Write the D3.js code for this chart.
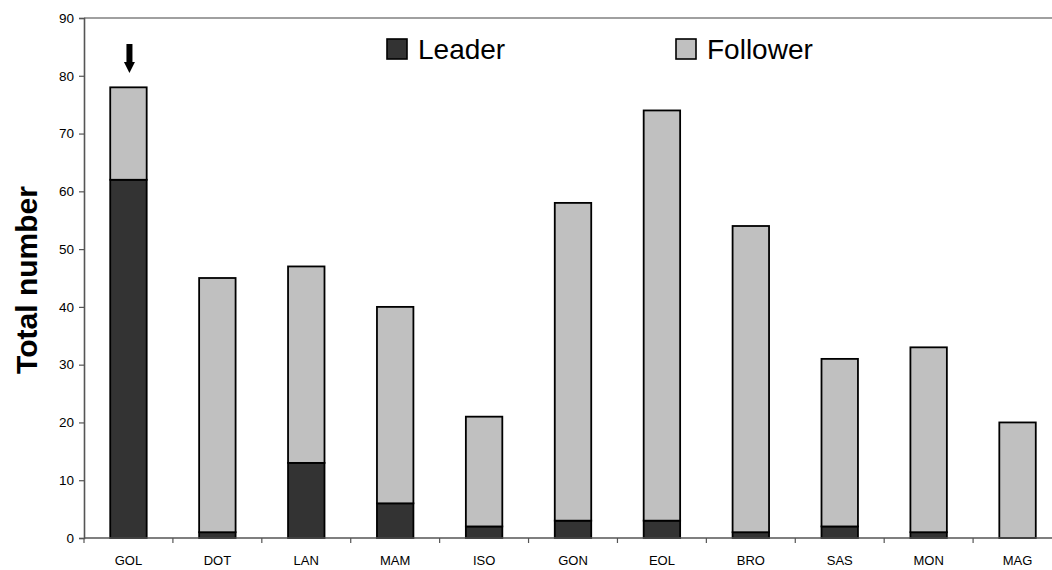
<!DOCTYPE html>
<html>
<head>
<meta charset="utf-8">
<script src="https://cdn.jsdelivr.net/npm/d3@7"></script>
<style>
  html, body { margin: 0; padding: 0; background: #fff; }
  svg { display: block; }
  text { font-family: Arial, "Liberation Sans", sans-serif; }
</style>
</head>
<body>
<svg id="chart" width="1052" height="570"></svg>
<script>
const categories = ["GOL", "DOT", "LAN", "MAM", "ISO", "GON", "EOL", "BRO", "SAS", "MON", "MAG"];
const leader =   [62, 1, 13, 6, 2, 3, 3, 1, 2, 1, 0];
const follower = [16, 44, 34, 34, 19, 55, 71, 53, 29, 32, 20];
const yTicks = [0, 10, 20, 30, 40, 50, 60, 70, 80, 90];
const seriesNames = ["Leader", "Follower"];
const seriesColors = ["#333333", "#c0c0c0"];

const svg = d3.select("#chart");
const plotLeft = 84, plotRight = 1062, plotTop = 18, plotBottom = 538;

const x = d3.scaleBand().domain(categories).range([plotLeft, plotRight]).paddingInner(0).paddingOuter(0);
const y = d3.scaleLinear().domain([0, 90]).range([plotBottom, plotTop]);
const barW = x.bandwidth() * 0.41;

// top border line
svg.append("line")
  .attr("x1", plotLeft).attr("x2", 1052).attr("y1", y(90)).attr("y2", y(90))
  .attr("stroke", "#808080").attr("stroke-width", 1.5);

// stacked data
const rows = categories.map((c, i) => ({ cat: c, Leader: leader[i], Follower: follower[i] }));
const stack = d3.stack().keys(seriesNames)(rows);

const g = svg.append("g");
stack.forEach((layer, li) => {
  g.selectAll(null).data(layer.filter(d => d[1] - d[0] > 0)).enter()
    .append("rect")
    .attr("x", d => x(d.data.cat) + (x.bandwidth() - barW) / 2)
    .attr("width", barW)
    .attr("y", d => y(d[1]))
    .attr("height", d => y(d[0]) - y(d[1]))
    .attr("fill", seriesColors[li])
    .attr("stroke", "#000")
    .attr("stroke-width", 1.8);
});

// y axis
const yAxis = d3.axisLeft(y).tickValues(yTicks).tickSize(5).tickPadding(5);
const ya = svg.append("g").attr("transform", `translate(${plotLeft},0)`).call(yAxis);
ya.select(".domain").attr("stroke", "#555").attr("stroke-width", 1.6);
ya.selectAll(".tick line").attr("stroke", "#555").attr("stroke-width", 1.2);
ya.selectAll(".tick text").attr("font-size", 13.5).attr("fill", "#000")
  .attr("font-family", "Arial, 'Liberation Sans', sans-serif");

// x axis line
svg.append("line")
  .attr("x1", plotLeft).attr("x2", plotRight).attr("y1", plotBottom).attr("y2", plotBottom)
  .attr("stroke", "#555").attr("stroke-width", 1.6);
// boundary ticks
const bounds = categories.map(c => x(c)).concat([plotRight]);
svg.selectAll(null).data(bounds).enter().append("line")
  .attr("x1", d => d).attr("x2", d => d)
  .attr("y1", plotBottom).attr("y2", plotBottom + 5)
  .attr("stroke", "#555").attr("stroke-width", 1.2);
// x labels
svg.selectAll(null).data(categories).enter().append("text")
  .attr("x", d => x(d) + x.bandwidth() / 2)
  .attr("y", 564.5)
  .attr("text-anchor", "middle")
  .attr("font-size", 13)
  .text(d => d);

// y title
svg.append("text")
  .attr("transform", `translate(37, 280) rotate(-90)`)
  .attr("text-anchor", "middle")
  .attr("font-size", 30)
  .attr("font-weight", "bold")
  .text("Total number");

// legend
const legendX = [387, 676];
seriesNames.forEach((n, i) => {
  svg.append("rect")
    .attr("x", legendX[i]).attr("y", 39).attr("width", 20).attr("height", 20)
    .attr("fill", seriesColors[i]).attr("stroke", "#000").attr("stroke-width", 1.6);
  svg.append("text")
    .attr("x", legendX[i] + 31).attr("y", 59)
    .attr("font-size", 28)
    .text(n);
});

// arrow over GOL
const ax = x("GOL") + x.bandwidth() / 2 + 1;
svg.append("rect").attr("x", ax - 3).attr("y", 44).attr("width", 6).attr("height", 20).attr("fill", "#000");
svg.append("path")
  .attr("d", `M${ax - 5.5},62 L${ax + 5.5},62 L${ax},73 Z`)
  .attr("fill", "#000");
</script>
</body>
</html>
